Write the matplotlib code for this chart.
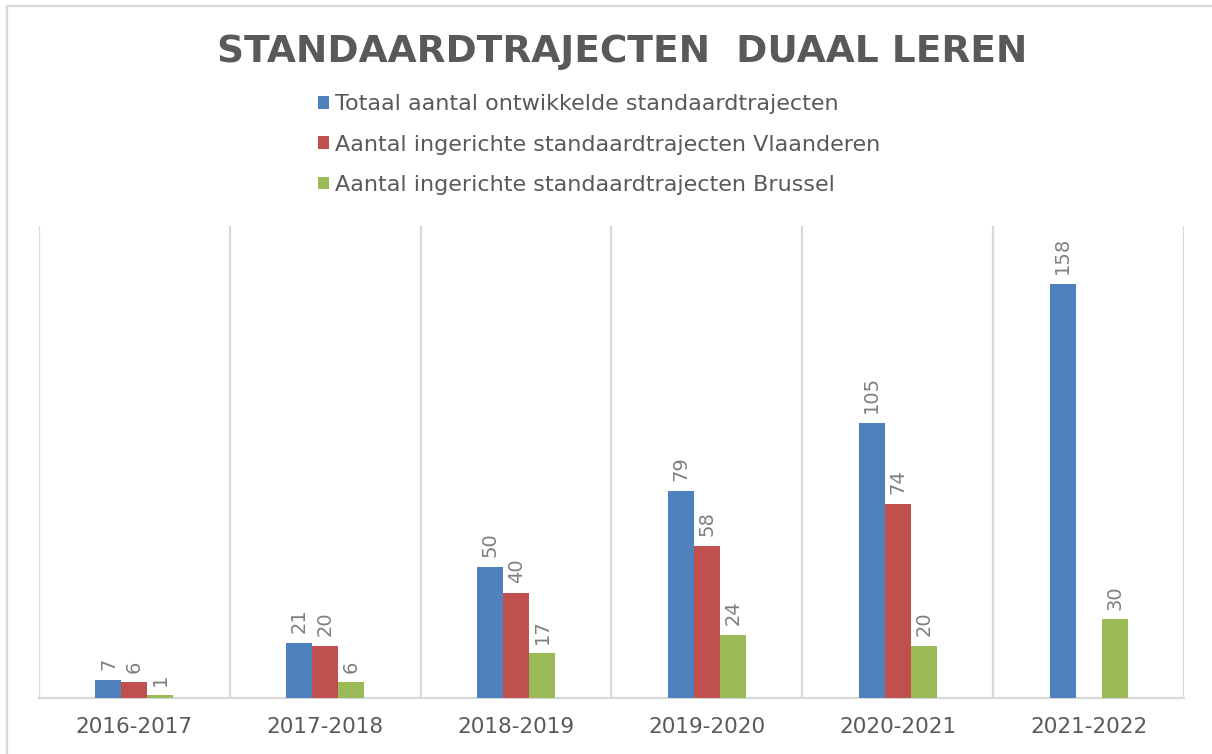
import matplotlib.pyplot as plt
import numpy as np
from matplotlib.lines import Line2D
from matplotlib.patches import Patch

jaren = ['2016-2017', '2017-2018', '2018-2019', '2019-2020', '2020-2021', '2021-2022']
totaal = [7, 21, 50, 79, 105, 158]
vlaanderen = [6, 20, 40, 58, 74, np.nan]
brussel = [1, 6, 17, 24, 20, 30]

reeksen = [totaal, vlaanderen, brussel]
labels = ['Totaal aantal ontwikkelde standaardtrajecten',
          'Aantal ingerichte standaardtrajecten Vlaanderen',
          'Aantal ingerichte standaardtrajecten Brussel']
kleuren = ['#4f81bd', '#c0504d', '#9bbb59']

W, H = 1212, 754
fig = plt.figure(figsize=(W / 100, H / 100), dpi=100)
ax = fig.add_axes([39 / W, 1 - 698 / H, (1184 - 39) / W, (698 - 226) / H])

# outer chart border (only top and left are visible in the crop)
fig.add_artist(Line2D([7 / W, 7 / W], [0, 1 - 6 / H], color='#d9d9d9', lw=1.6, transform=fig.transFigure))
fig.add_artist(Line2D([7 / W, 1], [1 - 6 / H, 1 - 6 / H], color='#d9d9d9', lw=1.6, transform=fig.transFigure))

x = np.arange(len(jaren))
bw = 26 / 191
for i, (vals, kleur) in enumerate(zip(reeksen, kleuren)):
    pos = x + (i - 1) * bw
    ax.bar(pos, vals, width=bw, color=kleur, zorder=3)
    for p, v in zip(pos, vals):
        if np.isnan(v):
            continue
        ax.annotate(str(int(v)), (p, v), xytext=(0, 7), textcoords='offset points',
                    rotation=90, ha='center', va='bottom', fontsize=14, color='#7f7f7f')

ax.set_xlim(-0.5, len(jaren) - 0.5)
ax.set_ylim(0, 180)
ax.set_yticks([])
ax.set_xticks(x)
ax.set_xticklabels(jaren, fontsize=15.5, color='#595959')
ax.set_xticks(np.arange(-0.5, len(jaren)), minor=True)
ax.tick_params(axis='x', which='both', length=0, pad=14)
ax.grid(which='minor', axis='x', color='#d9d9d9', lw=1.6, zorder=0)
for s in ['top', 'left', 'right']:
    ax.spines[s].set_visible(False)
ax.spines['bottom'].set_color('#d9d9d9')
ax.spines['bottom'].set_linewidth(1.6)

fig.text(0.513, 1 - 52 / H, 'STANDAARDTRAJECTEN  DUAAL LEREN', ha='center', va='center',
         fontsize=27, fontweight='bold', color='#595959')

handles = [Patch(facecolor=k, edgecolor='none') for k in kleuren]
fig.legend(handles, labels, loc='upper left', bbox_to_anchor=(307 / W, 1 - 83 / H),
           frameon=False, fontsize=16, handlelength=0.5, handleheight=0.5,
           handletextpad=0.25, labelspacing=0.92, labelcolor='#595959', borderpad=0)

plt.savefig('out.png', dpi=100)
